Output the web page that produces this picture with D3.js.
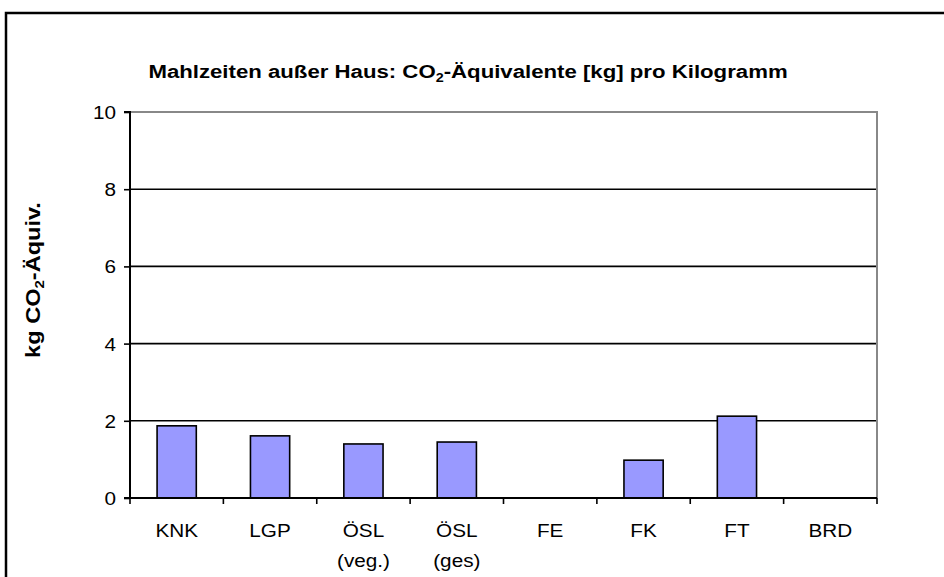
<!DOCTYPE html>
<html><head><meta charset="utf-8">
<script src="https://cdn.jsdelivr.net/npm/d3@7"></script>
<style>body{margin:0;background:#fff}svg{display:block;font-family:"Liberation Sans",Arial,sans-serif}</style>
</head><body><svg id="c" width="944" height="577"></svg>
<script>
const categories = [["KNK"],["LGP"],["ÖSL","(veg.)"],["ÖSL","(ges)"],["FE"],["FK"],["FT"],["BRD"]];
const values = [1.87, 1.61, 1.40, 1.45, 0, 0.98, 2.12, 0];
const yTicks = [0, 2, 4, 6, 8, 10];

const svg = d3.select("#c");
const L = 130, R = 877, T = 112, B = 498;
const SX = 1.12; // horizontal stretch of text as in the reference
const x = d3.scaleBand().domain(d3.range(categories.length)).range([L, R]).paddingInner(0).paddingOuter(0);
const y = d3.scaleLinear().domain([0, 10]).range([B, T]);

// outer frame
svg.append("rect").attr("x", 6).attr("y", 13).attr("width", 1000).attr("height", 1000)
  .attr("fill", "none").attr("stroke", "#000").attr("stroke-width", 2.5);

// gridlines
svg.append("g").selectAll("line").data(yTicks.filter(d => d > 0 && d < 10)).join("line")
  .attr("x1", L).attr("x2", R).attr("y1", d => y(d)).attr("y2", d => y(d))
  .attr("stroke", "#000").attr("stroke-width", 1.6);
// plot top & right border (gray)
svg.append("path").attr("d", `M${L},${y(10)}H${R}V${B}`).attr("fill", "none")
  .attr("stroke", "#888").attr("stroke-width", 2);

// bars
const bw = x.bandwidth() * 0.42;
const barData = values.map((v, i) => ({v, i})).filter(d => d.v > 0);
svg.append("g").selectAll("rect").data(barData).join("rect")
  .attr("x", d => x(d.i) + (x.bandwidth() - bw) / 2)
  .attr("y", d => y(d.v)).attr("width", bw).attr("height", d => B - y(d.v))
  .attr("fill", "#9999ff").attr("stroke", "#000").attr("stroke-width", 1.6);

// y axis
const ya = d3.axisLeft(y).tickValues(yTicks).tickSize(6).tickPadding(0).tickFormat(() => "");
const gy = svg.append("g").attr("transform", `translate(${L},0)`).call(ya);
gy.select(".domain").attr("stroke", "#000").attr("stroke-width", 2).attr("d", `M-6,${T}H0V${B}H-6`);
gy.selectAll(".tick line").attr("stroke", "#000").attr("stroke-width", 1.6);
gy.selectAll(".tick").append("text")
  .attr("transform", `translate(-14,0) scale(${SX},1)`).attr("dy", "0.35em")
  .attr("text-anchor", "end").attr("font-size", 18.5).attr("fill", "#000")
  .text(d => d);

// x axis
const gx = svg.append("g").attr("transform", `translate(0,${B})`);
gx.append("line").attr("x1", L).attr("x2", R).attr("stroke", "#000").attr("stroke-width", 2);
const bounds = d3.range(categories.length + 1).map(i => i < categories.length ? x(i) : R);
gx.selectAll(".xt").data(bounds).join("line").attr("class", "xt")
  .attr("x1", d => d).attr("x2", d => d).attr("y1", 0).attr("y2", 6)
  .attr("stroke", "#000").attr("stroke-width", 1.6);
gx.selectAll(".xl").data(categories).join("text").attr("class", "xl")
  .attr("transform", (d, i) => `translate(${x(i) + x.bandwidth() / 2},39) scale(${SX},1)`)
  .attr("text-anchor", "middle").attr("font-size", 18.5).attr("fill", "#000")
  .each(function(d) {
    const t = d3.select(this);
    d.forEach((s, k) => t.append("tspan").attr("x", 0).attr("dy", k === 0 ? 0 : 30).text(s));
  });

// title
const title = svg.append("text").attr("transform", `translate(468,78) scale(1.2,1)`).attr("text-anchor", "middle")
  .attr("font-size", 18.5).attr("font-weight", "bold").attr("fill", "#000");
title.append("tspan").text("Mahlzeiten außer Haus: CO");
title.append("tspan").attr("font-size", 12).attr("dy", 4).text("2");
title.append("tspan").attr("dy", -4).text("-Äquivalente [kg] pro Kilogramm");

// y label
const yl = svg.append("text").attr("transform", `translate(40,280) rotate(-90) scale(1.15,1)`).attr("text-anchor", "middle")
  .attr("font-size", 20.5).attr("font-weight", "bold").attr("fill", "#000");
yl.append("tspan").text("kg CO");
yl.append("tspan").attr("font-size", 13).attr("dy", 4).text("2");
yl.append("tspan").attr("dy", -4).text("-Äquiv.");
</script></body></html>
